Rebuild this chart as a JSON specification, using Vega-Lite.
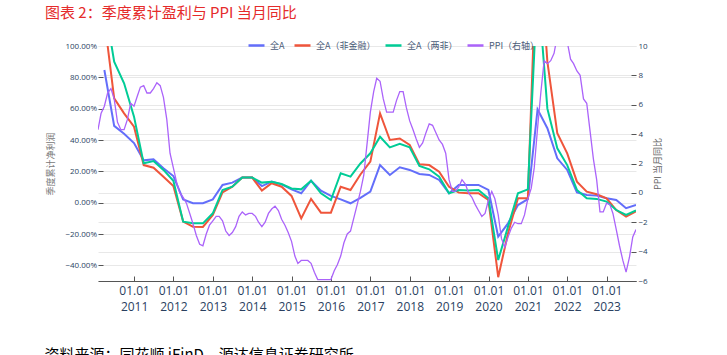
{
  "$schema": "https://vega.github.io/schema/vega-lite/v6.json",
  "width": 538,
  "height": 235,
  "autosize": {"type": "none"},
  "padding": {"left": 98, "top": 46, "right": 91, "bottom": 74},
  "background": "white",
  "config": {"view": {"stroke": null}, "font": "Open Sans"},
  "title": {
    "text": "图表 2：季度累计盈利与 PPI 当月同比",
    "anchor": "start",
    "frame": "group",
    "dx": -53,
    "offset": 15,
    "font": "Noto Sans CJK SC",
    "fontSize": 15,
    "fontWeight": "normal",
    "color": "#e52b2b"
  },
  "datasets": {
    "profit": [
      {"date": "2010-03-31", "series": "全A", "value": 0.847},
      {"date": "2010-06-30", "series": "全A", "value": 0.49},
      {"date": "2010-09-30", "series": "全A", "value": 0.44},
      {"date": "2010-12-31", "series": "全A", "value": 0.38},
      {"date": "2011-03-31", "series": "全A", "value": 0.27},
      {"date": "2011-06-30", "series": "全A", "value": 0.277},
      {"date": "2011-09-30", "series": "全A", "value": 0.22},
      {"date": "2011-12-31", "series": "全A", "value": 0.17},
      {"date": "2012-03-31", "series": "全A", "value": 0.02},
      {"date": "2012-06-30", "series": "全A", "value": -0.004},
      {"date": "2012-09-30", "series": "全A", "value": -0.004},
      {"date": "2012-12-31", "series": "全A", "value": 0.021},
      {"date": "2013-03-31", "series": "全A", "value": 0.113},
      {"date": "2013-06-30", "series": "全A", "value": 0.128},
      {"date": "2013-09-30", "series": "全A", "value": 0.16},
      {"date": "2013-12-31", "series": "全A", "value": 0.16},
      {"date": "2014-03-31", "series": "全A", "value": 0.106},
      {"date": "2014-06-30", "series": "全A", "value": 0.134},
      {"date": "2014-09-30", "series": "全A", "value": 0.117},
      {"date": "2014-12-31", "series": "全A", "value": 0.085},
      {"date": "2015-03-31", "series": "全A", "value": 0.06},
      {"date": "2015-06-30", "series": "全A", "value": 0.14},
      {"date": "2015-09-30", "series": "全A", "value": 0.077},
      {"date": "2015-12-31", "series": "全A", "value": 0.043},
      {"date": "2016-03-31", "series": "全A", "value": 0.021},
      {"date": "2016-06-30", "series": "全A", "value": -0.004},
      {"date": "2016-09-30", "series": "全A", "value": 0.03},
      {"date": "2016-12-31", "series": "全A", "value": 0.07},
      {"date": "2017-03-31", "series": "全A", "value": 0.24},
      {"date": "2017-06-30", "series": "全A", "value": 0.177},
      {"date": "2017-09-30", "series": "全A", "value": 0.226},
      {"date": "2017-12-31", "series": "全A", "value": 0.209},
      {"date": "2018-03-31", "series": "全A", "value": 0.183},
      {"date": "2018-06-30", "series": "全A", "value": 0.177},
      {"date": "2018-09-30", "series": "全A", "value": 0.145},
      {"date": "2018-12-31", "series": "全A", "value": 0.06},
      {"date": "2019-03-31", "series": "全A", "value": 0.113},
      {"date": "2019-06-30", "series": "全A", "value": 0.113},
      {"date": "2019-09-30", "series": "全A", "value": 0.113},
      {"date": "2019-12-31", "series": "全A", "value": 0.081},
      {"date": "2020-03-31", "series": "全A", "value": -0.217},
      {"date": "2020-06-30", "series": "全A", "value": -0.132},
      {"date": "2020-09-30", "series": "全A", "value": -0.015},
      {"date": "2020-12-31", "series": "全A", "value": 0.022},
      {"date": "2021-03-31", "series": "全A", "value": 0.596},
      {"date": "2021-06-30", "series": "全A", "value": 0.475},
      {"date": "2021-09-30", "series": "全A", "value": 0.283},
      {"date": "2021-12-31", "series": "全A", "value": 0.209},
      {"date": "2022-03-31", "series": "全A", "value": 0.066},
      {"date": "2022-06-30", "series": "全A", "value": 0.049},
      {"date": "2022-09-30", "series": "全A", "value": 0.045},
      {"date": "2022-12-31", "series": "全A", "value": 0.028},
      {"date": "2023-03-31", "series": "全A", "value": 0.017},
      {"date": "2023-06-30", "series": "全A", "value": -0.035},
      {"date": "2023-09-30", "series": "全A", "value": -0.015},

      {"date": "2010-03-31", "series": "全A（非金融）", "value": 1.17},
      {"date": "2010-06-30", "series": "全A（非金融）", "value": 0.666},
      {"date": "2010-09-30", "series": "全A（非金融）", "value": 0.57},
      {"date": "2010-12-31", "series": "全A（非金融）", "value": 0.485},
      {"date": "2011-03-31", "series": "全A（非金融）", "value": 0.24},
      {"date": "2011-06-30", "series": "全A（非金融）", "value": 0.223},
      {"date": "2011-09-30", "series": "全A（非金融）", "value": 0.166},
      {"date": "2011-12-31", "series": "全A（非金融）", "value": 0.106},
      {"date": "2012-03-31", "series": "全A（非金融）", "value": -0.121},
      {"date": "2012-06-30", "series": "全A（非金融）", "value": -0.153},
      {"date": "2012-09-30", "series": "全A（非金融）", "value": -0.155},
      {"date": "2012-12-31", "series": "全A（非金融）", "value": -0.078},
      {"date": "2013-03-31", "series": "全A（非金融）", "value": 0.066},
      {"date": "2013-06-30", "series": "全A（非金融）", "value": 0.102},
      {"date": "2013-09-30", "series": "全A（非金融）", "value": 0.16},
      {"date": "2013-12-31", "series": "全A（非金融）", "value": 0.16},
      {"date": "2014-03-31", "series": "全A（非金融）", "value": 0.077},
      {"date": "2014-06-30", "series": "全A（非金融）", "value": 0.124},
      {"date": "2014-09-30", "series": "全A（非金融）", "value": 0.102},
      {"date": "2014-12-31", "series": "全A（非金融）", "value": 0.043},
      {"date": "2015-03-31", "series": "全A（非金融）", "value": -0.10},
      {"date": "2015-06-30", "series": "全A（非金融）", "value": 0.024},
      {"date": "2015-09-30", "series": "全A（非金融）", "value": -0.064},
      {"date": "2015-12-31", "series": "全A（非金融）", "value": -0.064},
      {"date": "2016-03-31", "series": "全A（非金融）", "value": 0.102},
      {"date": "2016-06-30", "series": "全A（非金融）", "value": 0.081},
      {"date": "2016-09-30", "series": "全A（非金融）", "value": 0.18},
      {"date": "2016-12-31", "series": "全A（非金融）", "value": 0.262},
      {"date": "2017-03-31", "series": "全A（非金融）", "value": 0.57},
      {"date": "2017-06-30", "series": "全A（非金融）", "value": 0.40},
      {"date": "2017-09-30", "series": "全A（非金融）", "value": 0.41},
      {"date": "2017-12-31", "series": "全A（非金融）", "value": 0.368},
      {"date": "2018-03-31", "series": "全A（非金融）", "value": 0.245},
      {"date": "2018-06-30", "series": "全A（非金融）", "value": 0.24},
      {"date": "2018-09-30", "series": "全A（非金融）", "value": 0.198},
      {"date": "2018-12-31", "series": "全A（非金融）", "value": 0.102},
      {"date": "2019-03-31", "series": "全A（非金融）", "value": 0.064},
      {"date": "2019-06-30", "series": "全A（非金融）", "value": 0.06},
      {"date": "2019-09-30", "series": "全A（非金融）", "value": 0.06},
      {"date": "2019-12-31", "series": "全A（非金融）", "value": 0.017},
      {"date": "2020-03-31", "series": "全A（非金融）", "value": -0.476},
      {"date": "2020-06-30", "series": "全A（非金融）", "value": -0.195},
      {"date": "2020-09-30", "series": "全A（非金融）", "value": 0.028},
      {"date": "2020-12-31", "series": "全A（非金融）", "value": 0.028},
      {"date": "2021-03-31", "series": "全A（非金融）", "value": 1.79},
      {"date": "2021-06-30", "series": "全A（非金融）", "value": 0.9},
      {"date": "2021-09-30", "series": "全A（非金融）", "value": 0.443},
      {"date": "2021-12-31", "series": "全A（非金融）", "value": 0.315},
      {"date": "2022-03-31", "series": "全A（非金融）", "value": 0.134},
      {"date": "2022-06-30", "series": "全A（非金融）", "value": 0.07},
      {"date": "2022-09-30", "series": "全A（非金融）", "value": 0.054},
      {"date": "2022-12-31", "series": "全A（非金融）", "value": 0.028},
      {"date": "2023-03-31", "series": "全A（非金融）", "value": -0.047},
      {"date": "2023-06-30", "series": "全A（非金融）", "value": -0.089},
      {"date": "2023-09-30", "series": "全A（非金融）", "value": -0.055},

      {"date": "2010-03-31", "series": "全A（两非）", "value": 1.28},
      {"date": "2010-06-30", "series": "全A（两非）", "value": 0.90},
      {"date": "2010-09-30", "series": "全A（两非）", "value": 0.762},
      {"date": "2010-12-31", "series": "全A（两非）", "value": 0.549},
      {"date": "2011-03-31", "series": "全A（两非）", "value": 0.251},
      {"date": "2011-06-30", "series": "全A（两非）", "value": 0.266},
      {"date": "2011-09-30", "series": "全A（两非）", "value": 0.209},
      {"date": "2011-12-31", "series": "全A（两非）", "value": 0.14},
      {"date": "2012-03-31", "series": "全A（两非）", "value": -0.121},
      {"date": "2012-06-30", "series": "全A（两非）", "value": -0.132},
      {"date": "2012-09-30", "series": "全A（两非）", "value": -0.132},
      {"date": "2012-12-31", "series": "全A（两非）", "value": -0.068},
      {"date": "2013-03-31", "series": "全A（两非）", "value": 0.081},
      {"date": "2013-06-30", "series": "全A（两非）", "value": 0.102},
      {"date": "2013-09-30", "series": "全A（两非）", "value": 0.16},
      {"date": "2013-12-31", "series": "全A（两非）", "value": 0.16},
      {"date": "2014-03-31", "series": "全A（两非）", "value": 0.128},
      {"date": "2014-06-30", "series": "全A（两非）", "value": 0.134},
      {"date": "2014-09-30", "series": "全A（两非）", "value": 0.119},
      {"date": "2014-12-31", "series": "全A（两非）", "value": 0.091},
      {"date": "2015-03-31", "series": "全A（两非）", "value": 0.085},
      {"date": "2015-06-30", "series": "全A（两非）", "value": 0.14},
      {"date": "2015-09-30", "series": "全A（两非）", "value": 0.06},
      {"date": "2015-12-31", "series": "全A（两非）", "value": 0.017},
      {"date": "2016-03-31", "series": "全A（两非）", "value": 0.188},
      {"date": "2016-06-30", "series": "全A（两非）", "value": 0.166},
      {"date": "2016-09-30", "series": "全A（两非）", "value": 0.25},
      {"date": "2016-12-31", "series": "全A（两非）", "value": 0.315},
      {"date": "2017-03-31", "series": "全A（两非）", "value": 0.421},
      {"date": "2017-06-30", "series": "全A（两非）", "value": 0.353},
      {"date": "2017-09-30", "series": "全A（两非）", "value": 0.375},
      {"date": "2017-12-31", "series": "全A（两非）", "value": 0.353},
      {"date": "2018-03-31", "series": "全A（两非）", "value": 0.234},
      {"date": "2018-06-30", "series": "全A（两非）", "value": 0.213},
      {"date": "2018-09-30", "series": "全A（两非）", "value": 0.166},
      {"date": "2018-12-31", "series": "全A（两非）", "value": 0.06},
      {"date": "2019-03-31", "series": "全A（两非）", "value": 0.081},
      {"date": "2019-06-30", "series": "全A（两非）", "value": 0.077},
      {"date": "2019-09-30", "series": "全A（两非）", "value": 0.081},
      {"date": "2019-12-31", "series": "全A（两非）", "value": 0.028},
      {"date": "2020-03-31", "series": "全A（两非）", "value": -0.366},
      {"date": "2020-06-30", "series": "全A（两非）", "value": -0.153},
      {"date": "2020-09-30", "series": "全A（两非）", "value": 0.06},
      {"date": "2020-12-31", "series": "全A（两非）", "value": 0.085},
      {"date": "2021-03-31", "series": "全A（两非）", "value": 1.41},
      {"date": "2021-06-30", "series": "全A（两非）", "value": 0.6},
      {"date": "2021-09-30", "series": "全A（两非）", "value": 0.347},
      {"date": "2021-12-31", "series": "全A（两非）", "value": 0.24},
      {"date": "2022-03-31", "series": "全A（两非）", "value": 0.081},
      {"date": "2022-06-30", "series": "全A（两非）", "value": 0.028},
      {"date": "2022-09-30", "series": "全A（两非）", "value": 0.024},
      {"date": "2022-12-31", "series": "全A（两非）", "value": 0.007},
      {"date": "2023-03-31", "series": "全A（两非）", "value": -0.047},
      {"date": "2023-06-30", "series": "全A（两非）", "value": -0.078},
      {"date": "2023-09-30", "series": "全A（两非）", "value": -0.05}
    ],
    "ppi": [
      {"date": "2010-01-31", "ppi": 4.3}, {"date": "2010-02-28", "ppi": 5.4}, {"date": "2010-03-31", "ppi": 5.9}, {"date": "2010-04-30", "ppi": 6.8}, {"date": "2010-05-31", "ppi": 7.1}, {"date": "2010-06-30", "ppi": 6.4}, {"date": "2010-07-31", "ppi": 4.8}, {"date": "2010-08-31", "ppi": 4.3}, {"date": "2010-09-30", "ppi": 4.3}, {"date": "2010-10-31", "ppi": 5.0}, {"date": "2010-11-30", "ppi": 6.1}, {"date": "2010-12-31", "ppi": 5.9},
      {"date": "2011-01-31", "ppi": 6.6}, {"date": "2011-02-28", "ppi": 7.2}, {"date": "2011-03-31", "ppi": 7.3}, {"date": "2011-04-30", "ppi": 6.8}, {"date": "2011-05-31", "ppi": 6.8}, {"date": "2011-06-30", "ppi": 7.1}, {"date": "2011-07-31", "ppi": 7.5}, {"date": "2011-08-31", "ppi": 7.3}, {"date": "2011-09-30", "ppi": 6.5}, {"date": "2011-10-31", "ppi": 5.0}, {"date": "2011-11-30", "ppi": 2.7}, {"date": "2011-12-31", "ppi": 1.7},
      {"date": "2012-01-31", "ppi": 0.7}, {"date": "2012-02-29", "ppi": 0.0}, {"date": "2012-03-31", "ppi": -0.3}, {"date": "2012-04-30", "ppi": -0.7}, {"date": "2012-05-31", "ppi": -1.4}, {"date": "2012-06-30", "ppi": -2.1}, {"date": "2012-07-31", "ppi": -2.9}, {"date": "2012-08-31", "ppi": -3.5}, {"date": "2012-09-30", "ppi": -3.6}, {"date": "2012-10-31", "ppi": -2.8}, {"date": "2012-11-30", "ppi": -2.2}, {"date": "2012-12-31", "ppi": -1.9},
      {"date": "2013-01-31", "ppi": -1.6}, {"date": "2013-02-28", "ppi": -1.6}, {"date": "2013-03-31", "ppi": -1.9}, {"date": "2013-04-30", "ppi": -2.6}, {"date": "2013-05-31", "ppi": -2.9}, {"date": "2013-06-30", "ppi": -2.7}, {"date": "2013-07-31", "ppi": -2.3}, {"date": "2013-08-31", "ppi": -1.6}, {"date": "2013-09-30", "ppi": -1.3}, {"date": "2013-10-31", "ppi": -1.5}, {"date": "2013-11-30", "ppi": -1.4}, {"date": "2013-12-31", "ppi": -1.4},
      {"date": "2014-01-31", "ppi": -1.6}, {"date": "2014-02-28", "ppi": -2.0}, {"date": "2014-03-31", "ppi": -2.3}, {"date": "2014-04-30", "ppi": -2.0}, {"date": "2014-05-31", "ppi": -1.4}, {"date": "2014-06-30", "ppi": -1.1}, {"date": "2014-07-31", "ppi": -0.9}, {"date": "2014-08-31", "ppi": -1.2}, {"date": "2014-09-30", "ppi": -1.8}, {"date": "2014-10-31", "ppi": -2.2}, {"date": "2014-11-30", "ppi": -2.7}, {"date": "2014-12-31", "ppi": -3.3},
      {"date": "2015-01-31", "ppi": -4.3}, {"date": "2015-02-28", "ppi": -4.8}, {"date": "2015-03-31", "ppi": -4.6}, {"date": "2015-04-30", "ppi": -4.6}, {"date": "2015-05-31", "ppi": -4.6}, {"date": "2015-06-30", "ppi": -4.8}, {"date": "2015-07-31", "ppi": -5.4}, {"date": "2015-08-31", "ppi": -5.9}, {"date": "2015-09-30", "ppi": -5.9}, {"date": "2015-10-31", "ppi": -5.9}, {"date": "2015-11-30", "ppi": -5.9}, {"date": "2015-12-31", "ppi": -5.9},
      {"date": "2016-01-31", "ppi": -5.3}, {"date": "2016-02-29", "ppi": -4.9}, {"date": "2016-03-31", "ppi": -4.3}, {"date": "2016-04-30", "ppi": -3.4}, {"date": "2016-05-31", "ppi": -2.8}, {"date": "2016-06-30", "ppi": -2.6}, {"date": "2016-07-31", "ppi": -1.7}, {"date": "2016-08-31", "ppi": -0.8}, {"date": "2016-09-30", "ppi": 0.1}, {"date": "2016-10-31", "ppi": 1.2}, {"date": "2016-11-30", "ppi": 3.3}, {"date": "2016-12-31", "ppi": 5.5},
      {"date": "2017-01-31", "ppi": 6.9}, {"date": "2017-02-28", "ppi": 7.8}, {"date": "2017-03-31", "ppi": 7.6}, {"date": "2017-04-30", "ppi": 6.4}, {"date": "2017-05-31", "ppi": 5.5}, {"date": "2017-06-30", "ppi": 5.5}, {"date": "2017-07-31", "ppi": 5.5}, {"date": "2017-08-31", "ppi": 6.3}, {"date": "2017-09-30", "ppi": 6.9}, {"date": "2017-10-31", "ppi": 6.9}, {"date": "2017-11-30", "ppi": 5.8}, {"date": "2017-12-31", "ppi": 4.9},
      {"date": "2018-01-31", "ppi": 4.3}, {"date": "2018-02-28", "ppi": 3.7}, {"date": "2018-03-31", "ppi": 3.1}, {"date": "2018-04-30", "ppi": 3.4}, {"date": "2018-05-31", "ppi": 4.1}, {"date": "2018-06-30", "ppi": 4.7}, {"date": "2018-07-31", "ppi": 4.6}, {"date": "2018-08-31", "ppi": 4.1}, {"date": "2018-09-30", "ppi": 3.6}, {"date": "2018-10-31", "ppi": 3.3}, {"date": "2018-11-30", "ppi": 2.7}, {"date": "2018-12-31", "ppi": 0.9},
      {"date": "2019-01-31", "ppi": 0.1}, {"date": "2019-02-28", "ppi": 0.1}, {"date": "2019-03-31", "ppi": 0.4}, {"date": "2019-04-30", "ppi": 0.9}, {"date": "2019-05-31", "ppi": 0.6}, {"date": "2019-06-30", "ppi": 0.0}, {"date": "2019-07-31", "ppi": -0.3}, {"date": "2019-08-31", "ppi": -0.8}, {"date": "2019-09-30", "ppi": -1.2}, {"date": "2019-10-31", "ppi": -1.6}, {"date": "2019-11-30", "ppi": -1.4}, {"date": "2019-12-31", "ppi": -0.5},
      {"date": "2020-01-31", "ppi": 0.1}, {"date": "2020-02-29", "ppi": -0.4}, {"date": "2020-03-31", "ppi": -1.5}, {"date": "2020-04-30", "ppi": -3.1}, {"date": "2020-05-31", "ppi": -3.7}, {"date": "2020-06-30", "ppi": -3.0}, {"date": "2020-07-31", "ppi": -2.4}, {"date": "2020-08-31", "ppi": -2.0}, {"date": "2020-09-30", "ppi": -2.1}, {"date": "2020-10-31", "ppi": -2.1}, {"date": "2020-11-30", "ppi": -1.5}, {"date": "2020-12-31", "ppi": -0.4},
      {"date": "2021-01-31", "ppi": 0.3}, {"date": "2021-02-28", "ppi": 1.7}, {"date": "2021-03-31", "ppi": 4.4}, {"date": "2021-04-30", "ppi": 6.8}, {"date": "2021-05-31", "ppi": 9.0}, {"date": "2021-06-30", "ppi": 8.8}, {"date": "2021-07-31", "ppi": 9.0}, {"date": "2021-08-31", "ppi": 9.5}, {"date": "2021-09-30", "ppi": 10.7}, {"date": "2021-10-31", "ppi": 13.5}, {"date": "2021-11-30", "ppi": 12.9}, {"date": "2021-12-31", "ppi": 10.3},
      {"date": "2022-01-31", "ppi": 9.1}, {"date": "2022-02-28", "ppi": 8.8}, {"date": "2022-03-31", "ppi": 8.3}, {"date": "2022-04-30", "ppi": 8.0}, {"date": "2022-05-31", "ppi": 6.4}, {"date": "2022-06-30", "ppi": 6.1}, {"date": "2022-07-31", "ppi": 4.2}, {"date": "2022-08-31", "ppi": 2.3}, {"date": "2022-09-30", "ppi": 0.9}, {"date": "2022-10-31", "ppi": -1.3}, {"date": "2022-11-30", "ppi": -1.3}, {"date": "2022-12-31", "ppi": -0.7},
      {"date": "2023-01-31", "ppi": -0.8}, {"date": "2023-02-28", "ppi": -1.4}, {"date": "2023-03-31", "ppi": -2.5}, {"date": "2023-04-30", "ppi": -3.6}, {"date": "2023-05-31", "ppi": -4.6}, {"date": "2023-06-30", "ppi": -5.4}, {"date": "2023-07-31", "ppi": -4.4}, {"date": "2023-08-31", "ppi": -3.0}, {"date": "2023-09-30", "ppi": -2.5}
    ]
  },
  "layer": [
    {
      "data": {"name": "profit"},
      "mark": {"type": "line", "clip": true, "strokeWidth": 2},
      "encoding": {
        "x": {
          "field": "date",
          "type": "temporal",
          "scale": {"type": "utc", "domain": [{"year": 2010, "month": 1, "date": 31, "utc": true}, {"year": 2023, "month": 9, "date": 30, "utc": true}], "nice": false},
          "axis": {
            "tickCount": {"interval": "year", "step": 1},
            "labelExpr": "[utcFormat(datum.value, '%m.%d'), utcFormat(datum.value, '%Y')]",
            "labelFont": "Open Sans",
            "labelFontSize": 12,
            "labelColor": "#2a3f5f",
            "labelLineHeight": 16,
            "labelPadding": 9.5,
            "labelFlush": false,
            "labelOverlap": false,
            "tickSize": -5,
            "tickColor": "#555",
            "domainColor": "#555",
            "grid": false,
            "title": "资料来源：同花顺 iFinD，源达信息证券研究所",
            "titleFont": "Noto Sans CJK SC",
            "titleFontSize": 15,
            "titleFontWeight": "normal",
            "titleColor": "#000",
            "titleX": -54,
            "titleY": 66,
            "titleAlign": "left",
            "titleBaseline": "top"
          }
        },
        "y": {
          "field": "value",
          "type": "quantitative",
          "scale": {"domain": [-0.5, 1.0], "nice": false, "zero": false},
          "axis": {
            "values": [-0.4, -0.2, 0, 0.2, 0.4, 0.6, 0.8, 1.0],
            "format": ".2%",
            "labelFont": "Open Sans",
            "labelFontSize": 8,
            "labelColor": "#2a3f5f",
            "labelPadding": 6.5,
            "tickSize": -5,
            "tickColor": "#555",
            "tickOpacity": {"condition": {"test": "datum.value > 0.99", "value": 0}, "value": 1},
            "domain": false,
            "grid": true,
            "gridColor": "#e8e8e8",
            "title": "季度累计净利润",
            "titleFont": "Noto Sans CJK SC",
            "titleFontSize": 9,
            "titleFontWeight": "normal",
            "titleColor": "#777",
            "titleAngle": 270,
            "titleX": -48,
            "titleY": 117.5,
            "titleAlign": "center",
            "titleBaseline": "middle"
          }
        },
        "color": {
          "field": "series",
          "type": "nominal",
          "scale": {"domain": ["全A", "全A（非金融）", "全A（两非）", "PPI（右轴）"], "range": ["#636efa", "#ef553b", "#00cc96", "#ab63fa"]},
          "legend": {
            "orient": "none",
            "legendX": 149,
            "legendY": -10,
            "direction": "horizontal",
            "gridAlign": "none",
            "title": null,
            "symbolType": "stroke",
            "symbolSize": 256,
            "symbolStrokeWidth": 2.5,
            "labelFont": "Noto Sans CJK SC",
            "labelFontSize": 9,
            "labelColor": "#4b5b78",
            "labelOffset": 4,
            "columnPadding": 4
          }
        }
      }
    },
    {
      "data": {"name": "ppi"},
      "mark": {"type": "line", "clip": true, "strokeWidth": 1.3},
      "encoding": {
        "x": {"field": "date", "type": "temporal"},
        "y": {
          "field": "ppi",
          "type": "quantitative",
          "scale": {"domain": [-6, 10], "nice": false, "zero": false},
          "axis": {
            "orient": "right",
            "values": [-6, -4, -2, 0, 2, 4, 6, 8, 10],
            "format": "d",
            "labelFont": "Open Sans",
            "labelFontSize": 8,
            "labelColor": "#2a3f5f",
            "labelPadding": 7,
            "tickSize": -5,
            "tickColor": "#555",
            "tickOpacity": {"condition": {"test": "datum.value > 9.9", "value": 0}, "value": 1},
            "domain": false,
            "grid": true,
            "gridColor": "#e8e8e8",
            "title": "PPI 当月同比",
            "titleFont": "Noto Sans CJK SC",
            "titleFontSize": 9,
            "titleFontWeight": "normal",
            "titleColor": "#666",
            "titleAngle": 270,
            "titleX": 21,
            "titleY": 117.5,
            "titleAlign": "center",
            "titleBaseline": "middle"
          }
        },
        "color": {"datum": "PPI（右轴）"}
      }
    }
  ],
  "resolve": {"scale": {"y": "independent"}}
}
